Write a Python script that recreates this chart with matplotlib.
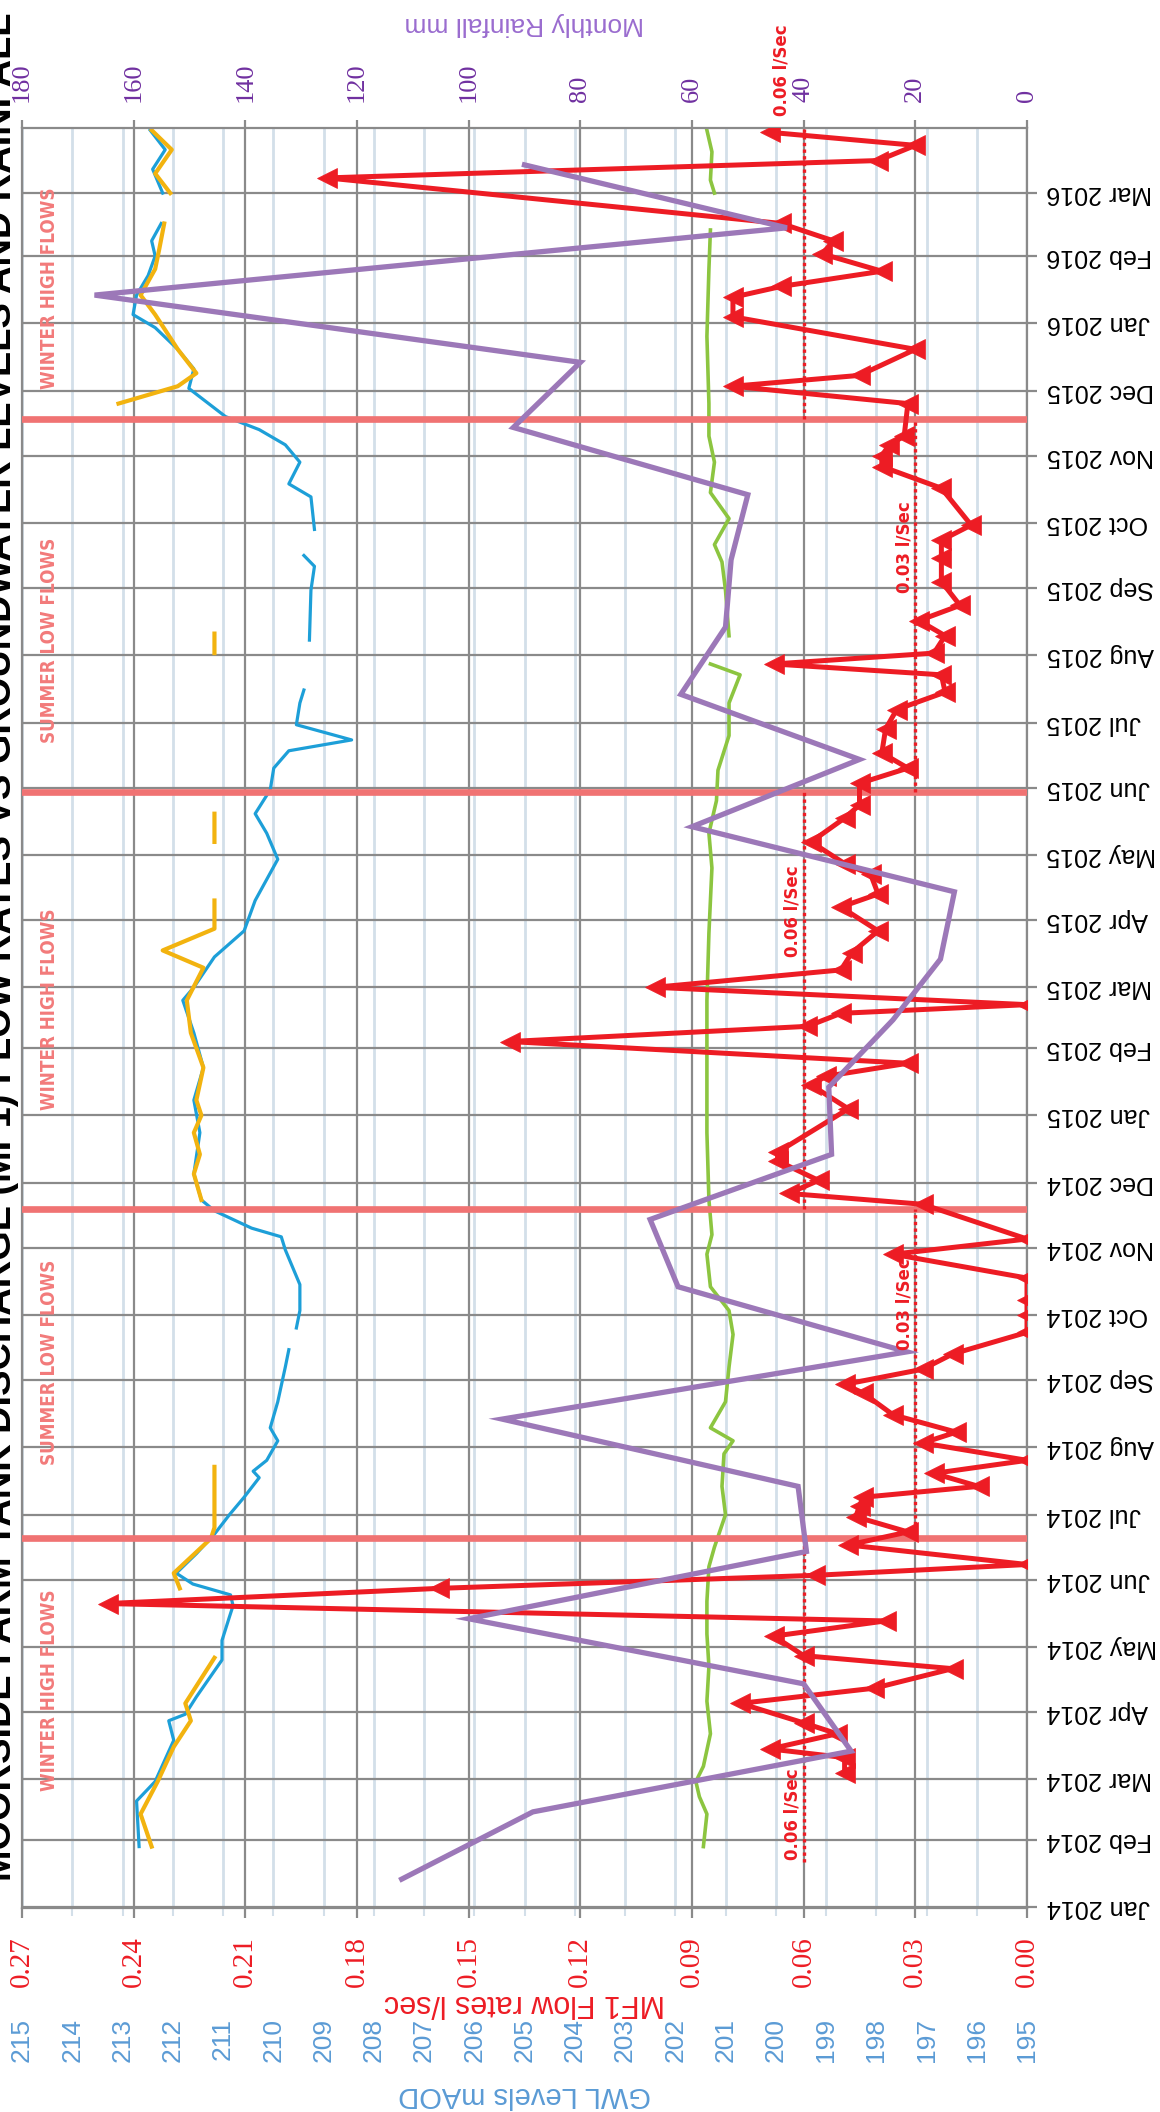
import numpy as np
import matplotlib
matplotlib.use("Agg")
import matplotlib.pyplot as plt
import matplotlib.dates as mdates
import matplotlib.transforms as mtransforms

# ---------------- data ----------------
TITLE = "MOORSIDE FARM TANK DISCHARGE (MF1) FLOW RATES VS GROUNDWATER LEVELS AND RAINFALL"

# MF1 flow rate, l/sec
flow_dates = [
    '2014-03-04', '2014-03-11', '2014-03-15', '2014-03-22', '2014-03-27',
    '2014-04-05', '2014-04-12', '2014-04-21', '2014-04-27',
    '2014-05-06', '2014-05-13', '2014-05-21', '2014-05-28',
    '2014-06-03', '2014-06-08', '2014-06-17', '2014-06-23', '2014-06-30',
    '2014-07-05', '2014-07-09', '2014-07-14', '2014-07-20', '2014-07-26',
    '2014-08-03', '2014-08-08', '2014-08-16', '2014-08-26', '2014-08-30',
    '2014-09-06', '2014-09-13', '2014-09-23',
    '2014-10-01', '2014-10-08', '2014-10-18', '2014-10-29',
    '2014-11-05', '2014-11-21', '2014-11-26',
    '2014-12-02', '2014-12-11', '2014-12-15',
    '2015-01-04', '2015-01-15', '2015-01-19', '2015-01-25',
    '2015-02-04', '2015-02-11', '2015-02-17', '2015-02-21',
    '2015-03-01', '2015-03-09', '2015-03-17', '2015-03-27',
    '2015-04-07', '2015-04-13', '2015-04-22', '2015-04-27',
    '2015-05-07', '2015-05-18', '2015-05-24',
    '2015-06-03', '2015-06-10', '2015-06-17', '2015-06-28',
    '2015-07-07', '2015-07-15', '2015-07-23', '2015-07-28',
    '2015-08-02', '2015-08-10', '2015-08-17', '2015-08-24',
    '2015-09-04', '2015-09-15', '2015-09-23', '2015-09-30',
    '2015-10-17', '2015-10-27',
    '2015-11-01', '2015-11-06', '2015-11-10', '2015-11-25',
    '2015-12-03', '2015-12-08', '2015-12-20',
    '2016-01-04', '2016-01-13', '2016-01-18', '2016-01-25',
    '2016-02-02', '2016-02-08', '2016-02-16',
    '2016-03-08', '2016-03-16', '2016-03-23', '2016-03-29',
]
flow_vals = [
    0.049, 0.049, 0.069, 0.051, 0.060,
    0.077, 0.041, 0.020, 0.060,
    0.068, 0.038, 0.247, 0.158,
    0.057, 0.000, 0.048, 0.032, 0.046,
    0.045, 0.044, 0.013, 0.025, 0.000,
    0.028, 0.019, 0.036, 0.044, 0.049,
    0.028, 0.020, 0.000,
    0.000, 0.000, 0.000, 0.036,
    0.000, 0.028, 0.064,
    0.056, 0.067, 0.067,
    0.048, 0.058, 0.054, 0.032,
    0.139, 0.059, 0.050, 0.000,
    0.100, 0.050, 0.047, 0.040,
    0.050, 0.040, 0.042, 0.049,
    0.058, 0.049, 0.045,
    0.045, 0.032, 0.039, 0.038,
    0.035, 0.022, 0.023, 0.068,
    0.025, 0.022, 0.029, 0.018,
    0.023, 0.023, 0.023, 0.015,
    0.023, 0.039,
    0.039, 0.037, 0.033, 0.032,
    0.079, 0.045, 0.030,
    0.079, 0.079, 0.066, 0.039,
    0.055, 0.052, 0.066,
    0.188, 0.040, 0.030, 0.069,
]

# monthly rainfall, mm (plotted mid month)
rain_dates = [
    '2014-01-14', '2014-02-14', '2014-03-14', '2014-04-14', '2014-05-14', '2014-06-14',
    '2014-07-14', '2014-08-14', '2014-09-14', '2014-10-14', '2014-11-14', '2014-12-14',
    '2015-01-14', '2015-02-14', '2015-03-14', '2015-04-14', '2015-05-14', '2015-06-14',
    '2015-07-14', '2015-08-14', '2015-09-14', '2015-10-14', '2015-11-14', '2015-12-14',
    '2016-01-14', '2016-02-14', '2016-03-14',
]
rain_vals = [112, 88.5, 31.5, 40, 100, 39.5, 41, 94, 21.5, 62.5, 67.5, 35,
             35.5, 24, 15.5, 13, 60, 30, 62, 54, 53, 50, 92, 80,
             167, 43, 90]

nan = np.nan
# groundwater level, blue borehole (mAOD)
blue_dates = [
    '2014-01-29', '2014-02-19', '2014-02-28', '2014-03-19', '2014-03-28', '2014-03-31',
    '2014-04-08', '2014-04-25', '2014-05-04', '2014-05-15', '2014-05-20', '2014-05-25',
    '2014-05-30', '2014-06-04', '2014-06-13', '2014-06-22', '2014-07-01', '2014-07-09',
    '2014-07-18', '2014-07-21', '2014-07-26', '2014-08-04', '2014-08-10', '2014-08-22',
    '2014-09-07', '2014-09-15', '2014-09-20', '2014-09-25', '2014-10-03', '2014-10-15',
    '2014-10-31', '2014-11-06', '2014-11-10', '2014-11-18', '2014-11-23', '2014-12-05',
    '2014-12-24', '2015-01-08', '2015-01-23', '2015-02-08', '2015-02-23', '2015-03-01',
    '2015-03-15', '2015-03-27', '2015-04-10', '2015-04-29', '2015-05-11', '2015-05-20',
    '2015-05-31', '2015-06-10', '2015-06-18', '2015-06-23', '2015-06-30', '2015-07-10',
    '2015-07-16', '2015-07-25', '2015-08-08', '2015-08-31', '2015-09-11', '2015-09-16',
    '2015-09-22', '2015-09-28', '2015-10-13', '2015-10-19', '2015-10-29', '2015-11-06',
    '2015-11-13', '2015-11-19', '2015-12-02', '2015-12-11', '2015-12-20', '2015-12-30',
    '2016-01-05', '2016-01-14', '2016-01-23', '2016-02-01', '2016-02-08', '2016-02-16',
    '2016-02-22', '2016-03-01', '2016-03-12', '2016-03-21', '2016-03-30',
]
blue_vals = [
    212.67, 212.72, 212.35, 211.98, 212.08, 211.75,
    211.53, 211.02, 211.02, 210.87, 210.80, 210.85,
    211.60, 211.93, 211.53, 211.17, 210.87, 210.58,
    210.28, 210.40, 210.13, 209.91, 210.06, 209.91,
    209.76, 209.69, nan, 209.54, 209.47, 209.47,
    209.76, 209.84, 210.43, 211.17, 211.43, 211.58,
    211.46, 211.58, 211.39, 211.58, 211.80, 211.58,
    211.17, 210.58, 210.36, 209.91, 210.13, 210.36,
    210.06, 209.99, 209.69, 208.44, 209.54, 209.47,
    209.39, nan, 209.28, 209.25, 209.18, 209.39,
    nan, 209.18, 209.25, 209.69, 209.47, 209.76,
    210.28, 210.95, 211.68, 211.58, 211.90, 212.35,
    212.79, 212.72, 212.49, 212.35, 212.42, 212.23,
    nan, 212.20, 212.40, 212.15, 212.45,
]

# groundwater level, yellow borehole (mAOD)
yellow_dates = [
    '2014-01-29', '2014-02-13', '2014-02-28', '2014-03-16', '2014-03-28', '2014-04-05',
    '2014-04-26', '2014-05-10', '2014-05-28', '2014-06-04', '2014-06-20', '2014-06-25',
    '2014-07-23', '2014-09-01', '2014-11-23', '2014-12-05', '2014-12-14', '2014-12-24',
    '2015-01-01', '2015-01-08', '2015-01-23', '2015-02-08', '2015-02-23', '2015-03-10',
    '2015-03-18', '2015-03-28', '2015-04-10', '2015-04-25', '2015-05-07', '2015-05-20',
    '2015-06-15', '2015-08-02', '2015-08-11', '2015-09-01', '2015-11-25', '2015-12-03',
    '2015-12-09', '2015-12-20', '2016-01-05', '2016-01-14', '2016-01-26', '2016-02-04',
    '2016-02-16', '2016-02-22', '2016-03-01', '2016-03-10', '2016-03-21', '2016-03-30',
]
yellow_vals = [
    212.42, 212.64, 212.30, 211.98, 211.64, 211.75,
    211.17, nan, 211.86, 211.98, 211.24, 211.17,
    211.17, nan, 211.43, 211.58, 211.46, 211.58,
    211.43, 211.53, 211.39, 211.64, 211.72, 211.39,
    212.20, 211.17, 211.17, nan, 211.17, 211.17,
    nan, 211.17, 211.17, nan, 213.08, 211.90,
    211.53, 211.90, 212.35, 212.64, 212.35, 212.27,
    212.17, nan, 212.05, 212.35, 212.02, 212.42,
]

# groundwater level, green borehole (mAOD)
green_dates = [
    '2014-01-29', '2014-02-13', '2014-02-21', '2014-02-28', '2014-03-07', '2014-03-22',
    '2014-04-06', '2014-04-22', '2014-05-07', '2014-05-22', '2014-06-07', '2014-06-16',
    '2014-07-01', '2014-07-14', '2014-07-29', '2014-08-04', '2014-08-10', '2014-08-22',
    '2014-09-07', '2014-09-22', '2014-10-03', '2014-10-14', '2014-10-29', '2014-11-07',
    '2014-11-23', '2014-12-24', '2015-01-23', '2015-02-23', '2015-03-26', '2015-04-25',
    '2015-05-11', '2015-05-26', '2015-06-09', '2015-06-25', '2015-07-10', '2015-07-23',
    '2015-07-28', '2015-08-03', '2015-08-10', '2015-08-31', '2015-09-13', '2015-09-21',
    '2015-10-03', '2015-10-15', '2015-10-29', '2015-11-10', '2015-11-25', '2015-12-26',
    '2016-01-26', '2016-02-13', '2016-02-21', '2016-03-01', '2016-03-07', '2016-03-20',
    '2016-03-30',
]
green_vals = [
    201.44, 201.37, 201.52, 201.59, 201.44, 201.30,
    201.37, 201.33, 201.37, 201.37, 201.33, 201.22,
    201.00, 201.07, 201.03, 200.85, 201.30, 201.00,
    200.93, 200.85, 200.93, 201.30, 201.37, 201.27,
    201.33, 201.37, 201.37, 201.37, 201.33, 201.27,
    201.33, 201.18, 201.15, 200.93, 200.93, 200.71,
    201.30, nan, 200.93, 201.00, 201.07, 201.22,
    200.93, 201.30, 201.22, 201.33, 201.33, 201.37,
    201.33, 201.30, nan, 201.22, 201.30, 201.27,
    201.37,
]

# seasonal boundaries and target flow lines
season_breaks = ['2014-06-20', '2014-11-19', '2015-05-30', '2015-11-18']
threshold_start = ['2014-01-22', '2014-06-20', '2014-11-19', '2015-05-30', '2015-11-18']
threshold_end = ['2014-06-20', '2014-11-19', '2015-05-30', '2015-11-18', '2016-03-31']
threshold_flow = [0.06, 0.03, 0.06, 0.03, 0.06]
threshold_label_dates = ['2014-02-13', '2014-10-06', '2015-04-05', '2015-09-20']
threshold_label_flow = [0.06, 0.03, 0.06, 0.03]
season_names = ['WINTER HIGH FLOWS', 'SUMMER LOW FLOWS', 'WINTER HIGH FLOWS',
                'SUMMER LOW FLOWS', 'WINTER HIGH FLOWS']
season_name_dates = ['2014-04-11', '2014-09-09', '2015-02-19', '2015-08-08', '2016-01-17']

flow_ticks = [0.00, 0.03, 0.06, 0.09, 0.12, 0.15, 0.18, 0.21, 0.24, 0.27]
gwl_ticks = list(range(195, 216))
rain_ticks = list(range(0, 181, 20))

# ---------------- axis scales ----------------
FLOW_MAX = 0.27
GWL_MIN, GWL_MAX = 195.0, 215.0
RAIN_MAX = 180.0


def gwl_to_flow(v):
    return (np.asarray(v, dtype=float) - GWL_MIN) / (GWL_MAX - GWL_MIN) * FLOW_MAX


def flow_to_gwl(f):
    return GWL_MIN + np.asarray(f, dtype=float) / FLOW_MAX * (GWL_MAX - GWL_MIN)


def rain_to_flow(v):
    return np.asarray(v, dtype=float) / RAIN_MAX * FLOW_MAX


def flow_to_rain(f):
    return np.asarray(f, dtype=float) / FLOW_MAX * RAIN_MAX


def dn(s):
    return mdates.date2num(np.array(s, dtype="datetime64[D]"))


# colours
RED = '#ed1c24'
BLUE = '#1d9fd8'
YELLOW = '#f2b30f'
GREEN = '#8cc540'
PURPLE = '#9c78b8'
SEASON_LINE = '#f07373'
SEASON_TXT = '#f27a7a'
GRID_DARK = '#8a8a8a'
GRID_LIGHT = '#d3dfe9'
GWL_TXT = '#5b9bd5'
RAIN_TXT = '#7030a0'
RAIN_LBL = '#9a6ccf'

# ---------------- figure ----------------
W, H = 1160, 2112
L, R, T, B = 22, 1027, 128, 1908
fig = plt.figure(figsize=(W / 100, H / 100), dpi=100)
ax = fig.add_axes([L / W, 1 - B / H, (R - L) / W, (B - T) / H])
ax.set_xlim(FLOW_MAX, 0)
ax.set_ylim(dn('2014-01-01') - 0.3, dn('2016-03-31'))

# grid
ax.set_axisbelow(True)
ax.set_xticks(flow_ticks, labels=[f"{v:.2f}" for v in flow_ticks], rotation=90,
              color=RED, fontsize=21, fontfamily='Liberation Serif')
ax.set_xticks(gwl_to_flow(gwl_ticks), minor=True)
month_ticks = np.arange('2014-01', '2016-04', dtype='datetime64[M]')
month_labels = [mdates.num2date(d).strftime('%b %Y') for d in mdates.date2num(month_ticks)]
ax.yaxis.tick_right()
ax.set_yticks(mdates.date2num(month_ticks), labels=month_labels, rotation=180,
              va='center', fontsize=18, fontfamily='Liberation Sans')
ax.grid(True, which='major', color=GRID_DARK, lw=1.6)
for v in gwl_ticks:
    ax.axvline(gwl_to_flow(v), color=GRID_LIGHT, lw=2.0, zorder=0.3)
ax.tick_params(axis='x', which='major', direction='out', length=7.2, width=1.6,
               color=GRID_DARK, pad=13)
ax.tick_params(axis='x', which='minor', direction='out', length=6, width=1.5,
               color=GRID_LIGHT)
ax.tick_params(axis='y', direction='out', length=7.2, width=1.6, color=GRID_DARK, pad=7)
for s in ax.spines.values():
    s.set_color(GRID_DARK)
    s.set_linewidth(1.6)
ax.set_xlabel('MF1 Flow rates l/sec', color=RED, fontsize=22, rotation=180,
              labelpad=1, fontfamily='Liberation Sans')

# GWL axis below
sec_g = ax.secondary_xaxis(-100 / (B - T), functions=(flow_to_gwl, gwl_to_flow))
sec_g.set_xticks(gwl_ticks, labels=[str(v) for v in gwl_ticks], rotation=90,
                 color=GWL_TXT, fontsize=19, fontfamily='Liberation Sans')
sec_g.tick_params(length=0, pad=7)
sec_g.spines['bottom'].set_visible(False)
sec_g.set_xlabel('GWL Levels mAOD', color=GWL_TXT, fontsize=21, rotation=180,
                 labelpad=14, fontfamily='Liberation Sans')

# rainfall axis on top
sec_r = ax.secondary_xaxis('top', functions=(flow_to_rain, rain_to_flow))
sec_r.set_xticks(rain_ticks, labels=[str(v) for v in rain_ticks], rotation=90,
                 color=RAIN_TXT, fontsize=19, fontfamily='Liberation Serif')
sec_r.tick_params(direction='out', length=6, width=1.6, color=GRID_DARK, pad=13)
sec_r.spines['top'].set_visible(False)
sec_r.set_xlabel('Monthly Rainfall mm', color=RAIN_LBL, fontsize=19, rotation=180,
                 labelpad=22, fontfamily='Liberation Sans')

# series (values horizontal, dates vertical)
ax.plot(gwl_to_flow(green_vals), dn(green_dates), color=GREEN, lw=2.6, zorder=2)
ax.plot(gwl_to_flow(blue_vals), dn(blue_dates), color=BLUE, lw=2.3, zorder=2.1)
ax.plot(gwl_to_flow(yellow_vals), dn(yellow_dates), color=YELLOW, lw=3.0, zorder=2.2)

for d in season_breaks:
    ax.axhline(dn(d), xmin=0, xmax=0.997, color=SEASON_LINE, lw=4.8, zorder=3)

for d0, d1, v in zip(threshold_start, threshold_end, threshold_flow):
    ax.plot([v, v], [dn(d0), dn(d1)], color=RED, lw=2.4, ls=(0, (1.0, 1.0)), zorder=3.5)

ax.plot(flow_vals, dn(flow_dates), color=RED, lw=3.6, marker='<', ms=15,
        mec=RED, mew=0.5, zorder=4)
ax.plot(rain_to_flow(rain_vals), dn(rain_dates), color=PURPLE, lw=3.8,
        solid_joinstyle='miter', zorder=5)

# annotations
for v, d in zip(threshold_label_flow, threshold_label_dates):
    ax.annotate(f"{v:.2f} l/Sec", xy=(v, dn(d)), xytext=(-2, 0), textcoords='offset pixels',
                rotation=90, ha='right', va='center', color=RED, fontweight='bold',
                fontsize=12, zorder=6)
ax.annotate("0.06 l/Sec", xy=(0.06, 1), xycoords=('data', 'axes fraction'),
            xytext=(-13, 58), textcoords='offset pixels', rotation=90, ha='right',
            va='center', color=RED, fontweight='bold', fontsize=12, annotation_clip=False)

blend = mtransforms.blended_transform_factory(ax.transAxes, ax.transData)
season_texts = []
for name, d in zip(season_names, season_name_dates):
    season_texts.append(ax.text(0.0269, dn(d), name, transform=blend, rotation=90,
                                ha='center', va='center', color=SEASON_TXT,
                                fontweight='bold', fontstretch='condensed',
                                fontfamily=['Liberation Sans Narrow', 'DejaVu Sans'],
                                fontsize=16, zorder=6))

title = fig.text(11 / W, 1 - 1881 / H, TITLE, rotation=90, rotation_mode='anchor',
                 ha='left', va='baseline', fontsize=28, fontweight='bold',
                 fontfamily='Liberation Sans', color='black')

# size the long rotated texts to the reference lengths
renderer = fig.canvas.get_renderer()


def fit_height(txt, target):
    for _ in range(3):
        h = txt.get_window_extent(renderer=renderer).height
        txt.set_fontsize(txt.get_fontsize() * target / h)


fit_height(title, 1869)
fit_height(season_texts[0], 204)
for t in season_texts[1:]:
    t.set_fontsize(season_texts[0].get_fontsize())

fig.savefig('out.png', dpi=100)
